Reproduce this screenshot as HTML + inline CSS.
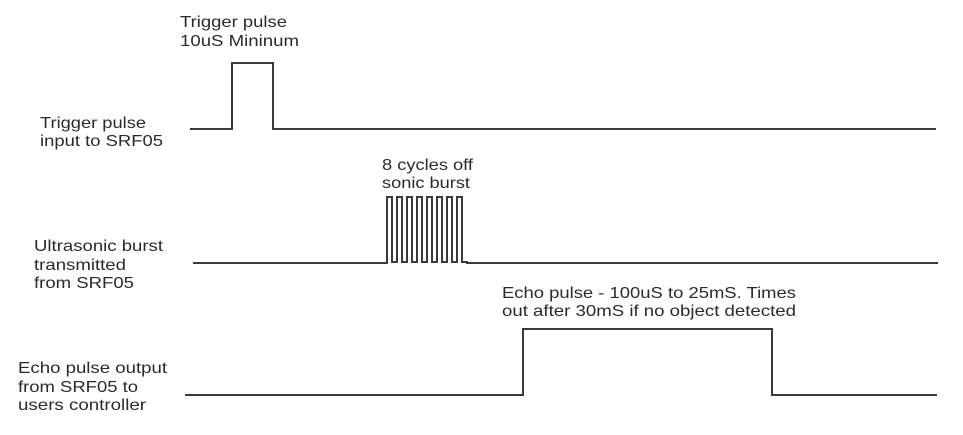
<!DOCTYPE html>
<html><head><meta charset="utf-8"><style>
html,body{margin:0;padding:0;background:#fff;}
svg{display:block;}
text{font-family:"Liberation Sans",Arial,sans-serif;font-size:16px;fill:#2a2a2a;}
</style></head><body>
<svg width="963" height="435" viewBox="0 0 963 435" xmlns="http://www.w3.org/2000/svg">
<g fill="none" stroke="#3a3a3a" stroke-width="2">
<path d="M190 129 H232 V63 H273 V129 H936"/>
<path d="M193 263 H387 V197 H392 V262 H397 V197 H402 V262 H407 V197 H412 V262 H417 V197 H422 V262 H427 V197 H432 V262 H437 V197 H442 V262 H447 V197 H452 V262 H457 V197 H462 V262 H467 V263 H938"/>
<path d="M185 395 H523 V329 H772 V395 H937"/>
</g>
<g>
<text x="180" y="27" textLength="107" lengthAdjust="spacingAndGlyphs">Trigger pulse</text>
<text x="180" y="46" textLength="119" lengthAdjust="spacingAndGlyphs">10uS Mininum</text>
<text x="40" y="128" textLength="106" lengthAdjust="spacingAndGlyphs">Trigger pulse</text>
<text x="40" y="146" textLength="123" lengthAdjust="spacingAndGlyphs">input to SRF05</text>
<text x="382" y="170" textLength="91" lengthAdjust="spacingAndGlyphs">8 cycles off</text>
<text x="382" y="188" textLength="88" lengthAdjust="spacingAndGlyphs">sonic burst</text>
<text x="34" y="251" textLength="129" lengthAdjust="spacingAndGlyphs">Ultrasonic burst</text>
<text x="34" y="270" textLength="92" lengthAdjust="spacingAndGlyphs">transmitted</text>
<text x="34" y="288" textLength="100" lengthAdjust="spacingAndGlyphs">from SRF05</text>
<text x="502" y="298" textLength="294" lengthAdjust="spacingAndGlyphs">Echo pulse - 100uS to 25mS. Times</text>
<text x="502" y="316" textLength="294" lengthAdjust="spacingAndGlyphs">out after 30mS if no object detected</text>
<text x="18" y="373" textLength="149" lengthAdjust="spacingAndGlyphs">Echo pulse output</text>
<text x="18" y="392" textLength="120" lengthAdjust="spacingAndGlyphs">from SRF05 to</text>
<text x="18" y="410" textLength="128" lengthAdjust="spacingAndGlyphs">users controller</text>
</g>
</svg>
</body></html>
